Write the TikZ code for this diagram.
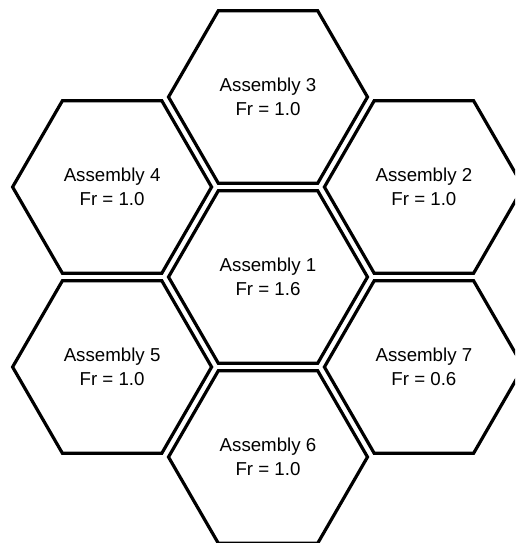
\documentclass[tikz,border=0pt]{standalone}
\usepackage{fontspec}
\setmainfont{Liberation Sans}
\begin{document}
\begin{tikzpicture}[x=1pt,y=-1pt,
    hexline/.style={draw=black, line width=3.2pt, line join=miter},
    label/.style={align=center, inner sep=0pt, font=\fontsize{18.7}{24.3}\selectfont}]
  \useasboundingbox (0,0) rectangle (515,543);
  \clip (0,0) rectangle (515,543);
  \def\R{99.5}
  % hexagon centres
  \coordinate (c1) at (268,277);
  \coordinate (c2) at (423.9,187);
  \coordinate (c3) at (268,97);
  \coordinate (c4) at (112.1,187);
  \coordinate (c5) at (112.1,367);
  \coordinate (c6) at (268,457);
  \coordinate (c7) at (423.9,367);
  % flat-topped assembly cells
  \foreach \c in {c1,c2,c3,c4,c5,c6,c7} {
    \draw[hexline] (\c) +(0:\R) -- +(60:\R) -- +(120:\R) -- +(180:\R)
      -- +(240:\R) -- +(300:\R) -- cycle;
  }
  % cell labels
  \node[label] (a1) at (c1) {Assembly 1\\Fr = 1.6};
  \node[label] (a2) at (c2) {Assembly 2\\Fr = 1.0};
  \node[label] (a3) at (c3) {Assembly 3\\Fr = 1.0};
  \node[label] (a4) at (c4) {Assembly 4\\Fr = 1.0};
  \node[label] (a5) at (c5) {Assembly 5\\Fr = 1.0};
  \node[label] (a6) at (c6) {Assembly 6\\Fr = 1.0};
  \node[label] (a7) at (c7) {Assembly 7\\Fr = 0.6};
\end{tikzpicture}
\end{document}
